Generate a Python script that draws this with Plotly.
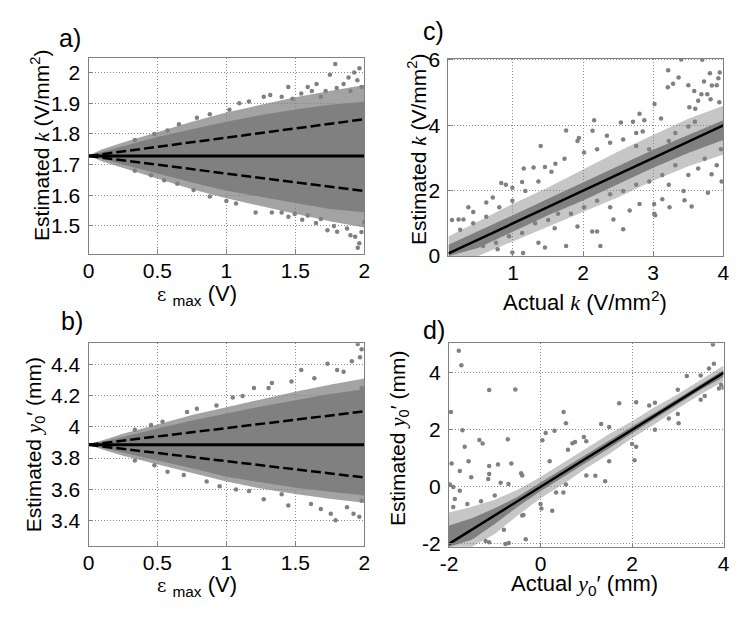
import plotly.graph_objects as go

# The page body adds an 8px margin, so the figure is sized to fill the window exactly.
OFF = 8
W, H = 750 - 2 * OFF, 624 - 2 * OFF
GRAY = "rgb(128,128,128)"
HALO_AB = "rgba(128,128,128,0.72)"
HALO_CD = "rgba(128,128,128,0.45)"

# ---------------- data ----------------
# panel a: estimated k vs eps_max
a_env_x = [0, 0.1, 0.25, 0.5, 0.75, 1.0, 1.25, 1.5, 1.75, 2.0]
a_core_hi = [1.73, 1.742, 1.76, 1.79, 1.815, 1.84, 1.862, 1.88, 1.895, 1.905]
a_core_lo = [1.73, 1.718, 1.70, 1.67, 1.642, 1.615, 1.595, 1.575, 1.555, 1.545]
a_halo_hi = [1.73, 1.75, 1.772, 1.806, 1.84, 1.87, 1.895, 1.92, 1.94, 1.96]
a_halo_lo = [1.73, 1.71, 1.688, 1.655, 1.62, 1.59, 1.565, 1.54, 1.515, 1.495]
a_out_x = [1.79, 1.965, 1.927, 1.886, 1.751, 1.85, 1.654, 1.59, 1.449, 1.271, 1.318, 1.164,
           1.094, 1.022, 0.88, 0.786, 0.656, 0.573, 0.478, 0.336, 1.685, 1.543, 1.401, 1.981,
           1.9, 1.95, 1.8, 1.72, 1.62, 1.48,
           1.953, 1.964, 1.934, 1.803, 1.733, 1.875, 1.685, 1.59, 1.496, 1.401, 1.33, 1.212,
           1.07, 1.0, 0.88, 0.762, 0.644, 0.549, 0.454, 0.336, 2.0,
           1.9, 1.98, 1.78, 1.65, 1.55, 1.45]
a_out_y = [2.028, 2.014, 2.0, 1.984, 1.993, 1.963, 1.963, 1.953, 1.953, 1.921, 1.927, 1.906,
           1.90, 1.879, 1.864, 1.853, 1.832, 1.811, 1.80, 1.78, 1.921, 1.932, 1.921, 1.953,
           1.94, 1.975, 1.95, 1.94, 1.94, 1.915,
           1.429, 1.444, 1.465, 1.481, 1.486, 1.492, 1.523, 1.534, 1.539, 1.544, 1.544, 1.544,
           1.573, 1.581, 1.596, 1.617, 1.638, 1.649, 1.665, 1.68, 1.513,
           1.47, 1.48, 1.50, 1.51, 1.52, 1.53]
a_true_x = [0, 2]
a_true_y = [1.728, 1.728]
a_dash_x = [0, 2]
a_dash_hi = [1.728, 1.848]
a_dash_lo = [1.728, 1.614]

# panel b: estimated y0' vs eps_max
b_env_x = [0, 0.1, 0.25, 0.5, 0.75, 1.0, 1.25, 1.5, 1.75, 2.0]
b_core_hi = [3.885, 3.905, 3.935, 3.99, 4.04, 4.085, 4.13, 4.17, 4.21, 4.24]
b_core_lo = [3.885, 3.865, 3.835, 3.785, 3.735, 3.68, 3.645, 3.61, 3.585, 3.56]
b_halo_hi = [3.885, 3.915, 3.955, 4.015, 4.075, 4.125, 4.175, 4.225, 4.27, 4.31]
b_halo_lo = [3.885, 3.855, 3.815, 3.762, 3.705, 3.65, 3.605, 3.57, 3.54, 3.515]
b_out_x = [1.953, 1.981, 1.969, 1.91, 1.733, 1.85, 1.803, 1.543, 1.638, 1.472, 1.33, 1.2,
           1.306, 1.117, 1.046, 0.928, 0.786, 0.715, 0.537, 0.454, 0.336, 1.981,
           1.792, 1.757, 1.922, 1.964, 1.875, 1.685, 1.614, 1.449, 1.271, 1.401, 1.164, 1.07,
           0.951, 0.857, 0.691, 0.573, 0.478, 0.336, 1.981]
b_out_y = [4.53, 4.497, 4.445, 4.419, 4.404, 4.352, 4.363, 4.363, 4.311, 4.29, 4.28, 4.249,
           4.249, 4.198, 4.187, 4.136, 4.115, 4.095, 4.033, 4.012, 3.981, 4.249,
           3.403, 3.444, 3.444, 3.424, 3.486, 3.475, 3.506, 3.496, 3.537, 3.568, 3.589, 3.599,
           3.620, 3.651, 3.692, 3.713, 3.754, 3.785, 3.527]
b_true_x = [0, 2]
b_true_y = [3.885, 3.885]
b_dash_x = [0, 2]
b_dash_hi = [3.885, 4.099]
b_dash_lo = [3.885, 3.676]

# panel c: estimated k vs actual k
c_env_x = [0.08, 0.5, 1, 1.5, 2, 2.5, 3, 3.5, 4]
c_core_hi = [0.35, 0.75, 1.25, 1.75, 2.25, 2.75, 3.25, 3.7, 4.15]
c_core_lo = [0.0, 0.25, 0.75, 1.25, 1.7, 2.2, 2.7, 3.15, 3.55]
c_halo_hi = [0.6, 1.05, 1.6, 2.1, 2.65, 3.2, 3.7, 4.2, 4.6]
c_halo_lo = [0.0, 0.0, 0.45, 0.9, 1.35, 1.8, 2.3, 2.75, 3.1]
c_out_x = [3.4, 3.70, 3.214, 3.363, 3.284, 3.209, 3.502, 3.809, 3.949, 3.93, 3.725, 3.837,
           3.907, 3.586, 3.688, 3.772, 3.819, 3.944, 3.019, 3.516, 3.642, 3.6, 2.805, 3.112,
           2.158, 2.54, 2.712, 2.874, 1.758, 1.94, 1.92, 2.135, 2.34, 1.395, 1.605, 1.293,
           1.456, 1.153, 0.833, 0.898, 0.991, 1.13, 0.619, 0.363, 0.13, 0.223, 0.293, 0.433,
           0.712,
           3.977, 3.781, 3.549, 3.433, 3.447, 3.223, 3.13, 3.014, 3.014, 3.028, 3.233, 2.572,
           2.433, 2.247, 2.13, 2.2, 2.665, 2.805, 2.386, 1.758, 1.92, 1.595, 1.363, 1.456,
           1.144, 0.991, 0.781, 3.967, 3.907, 3.833,
           2.758, 2.851, 2.944, 3.223, 3.316, 3.502, 3.595, 3.688, 3.735, 3.642, 3.502, 3.316,
           3.13, 2.944, 2.758, 2.572, 2.386, 2.2, 2.014, 1.828, 1.642, 1.502, 1.316, 1.13,
           0.944, 0.758, 0.572, 1.735, 1.549, 1.363, 1.177, 0.991, 0.805, 0.619, 0.433, 0.247,
           2.014, 2.2, 2.386, 2.572, 2.758]
c_out_y = [6.01, 6.0, 5.686, 5.459, 5.272, 5.163, 5.222, 5.587, 5.617, 5.44, 5.341, 5.213,
           5.222, 5.045, 4.946, 4.946, 4.798, 4.7, 4.65, 4.551, 4.749, 4.502, 4.354, 4.206,
           4.157, 4.088, 4.108, 4.157, 3.841, 3.614, 3.516, 3.831, 3.683, 3.368, 2.826, 2.707,
           2.727, 2.678, 2.233, 2.184, 2.086, 2.263, 1.642, 1.494, 1.1, 1.12, 1.12, 1.346,
           1.79,
           2.283, 1.938, 1.514, 1.988, 1.711, 2.184, 1.74, 1.593, 1.297, 1.248, 1.494, 0.824,
           1.12, 0.311, 0.755, 0.755, 1.396, 1.593, 1.494, 0.311, 0.903, 0.853, 0.41, 0.262,
           0.094, 0.113, 0.212, 3.269, 2.777, 2.5,
           3.368, 3.811, 3.269, 3.516, 3.762, 3.96, 4.108, 3.664, 2.974, 2.678, 2.48, 2.776,
           2.48, 2.283, 2.184, 1.987, 1.889, 1.692, 1.494, 1.297, 1.297, 1.1, 1.002, 0.706,
           0.607, 0.41, 0.311, 2.974, 2.579, 2.283, 1.987, 1.692, 1.494, 1.199, 1.002, 0.804,
           3.171, 3.269, 3.467, 3.565, 3.762]
c_true_x = [0.08, 4]
c_true_y = [0.08, 4]

# panel d: estimated y0' vs actual y0'
d_env_x = [-2, -1.5, -1, -0.5, 0, 0.5, 1, 1.5, 2, 2.5, 3, 3.5, 4]
d_core_hi = [-1.35, -1.1, -0.75, -0.35, 0.15, 0.65, 1.15, 1.65, 2.12, 2.6, 3.1, 3.6, 4.1]
d_core_lo = [-2.1, -1.85, -1.3, -0.7, -0.15, 0.35, 0.85, 1.35, 1.88, 2.4, 2.9, 3.4, 3.85]
d_halo_hi = [-0.9, -0.7, -0.45, -0.1, 0.35, 0.85, 1.35, 1.85, 2.3, 2.8, 3.25, 3.75, 4.25]
d_halo_lo = [-2.1, -2.1, -1.65, -1.0, -0.4, 0.1, 0.65, 1.15, 1.7, 2.2, 2.75, 3.25, 3.7]
d_out_x = [-1.786, -1.729, -1.957, -1.707, -1.122, -0.551, -1.336, -1.265, -0.715, -1.657,
           -1.943, -1.572, -1.122, -0.93, -0.637, -1.764, -1.122, -1.515, -1.143, -0.423,
           -0.872, -1.979, -1.907, -1.764, -1.872, -1.907, 0.041, 0.113, 0.305, 0.505, 0.555,
           0.698, 0.755, 0.948, 1.326, 1.719, 2.09, 2.375, 3.197, 3.767, 3.789, 3.682, 3.589,
           3.018, 2.804, 2.09, 2.054, 1.412, 1.198, 0.555, 0.341, 0.256, 0.02, -0.373, -0.323,
           -0.694, -0.765, -1.122, 4.0, 3.946,
           -1.6, -1.3, -1.0, -0.7, -0.4, 0.2, 0.6, 1.0, 1.5, 2.5, 3.0, 3.5,
           -1.2, -0.8, -0.4, 0.0, 0.5, 1.0, 1.5, 2.0, 2.5, 3.0, 3.5, 3.9]
d_out_y = [4.767, 4.259, 2.624, 1.981, 3.391, 3.413, 1.642, 1.518, 1.665, 1.406,
           0.819, 0.898, 0.729, 0.785, 0.819, 0.559, 0.447, 0.334, 0.278, 0.481,
           0.142, 0.086, -0.005, -0.14, -0.422, -0.704, 1.631, 1.891, 1.969, 2.624, 2.229,
           1.53, 1.575, 1.744, 2.206, 2.928, 2.962, 2.85, 3.887, 4.993, 4.316, 4.147, 3.188,
           2.229, 2.398, 1.406, 0.932, 0.2, 0.39, 0.086, -0.196, -0.839, -0.76, -0.986, -1.832,
           -1.967, -2.0, -1.945, 3.47, 3.58,
           -0.6, -0.5, -0.3, 0.1, 0.4, 0.9, 1.3, 1.6, 2.1, 2.95, 3.4, 3.9,
           -1.9, -1.5, -1.0, -0.6, -0.2, 0.4, 0.9, 1.5, 2.0, 2.55, 3.05, 3.45]
d_true_x = [-2, 4]
d_true_y = [-2, 4]

# tick labels
a_xticks = [0, 0.5, 1, 1.5, 2]
a_xtext = ["0", "0.5", "1", "1.5", "2"]
a_yticks = [1.5, 1.6, 1.7, 1.8, 1.9, 2.0]
a_ytext = ["1.5", "1.6", "1.7", "1.8", "1.9", "2"]
b_yticks = [3.4, 3.6, 3.8, 4.0, 4.2, 4.4]
b_ytext = ["3.4", "3.6", "3.8", "4", "4.2", "4.4"]
c_xticks = [1, 2, 3, 4]
c_xtext = ["1", "2", "3", "4"]
c_yticks = [0, 2, 4, 6]
c_ytext = ["0", "2", "4", "6"]
d_xticks = [-2, 0, 2, 4]
d_xtext = ["-2", "0", "2", "4"]
d_yticks = [-2, 0, 2, 4]
d_ytext = ["-2", "0", "2", "4"]

# ---------------- figure ----------------
fig = go.Figure()

def px(x):
    return (x - OFF) / W

def py(y):
    return 1 - (y - OFF) / H

panels = {
    "a": dict(xa="x", ya="y", dom_x=[px(81), px(362.5)], dom_y=[py(252), py(49)]),
    "b": dict(xa="x2", ya="y2", dom_x=[px(81), px(362.5)], dom_y=[py(555), py(345)]),
    "c": dict(xa="x3", ya="y3", dom_x=[px(448.5), px(729)], dom_y=[py(254.6), py(50)]),
    "d": dict(xa="x4", ya="y4", dom_x=[px(449), px(729.3)], dom_y=[py(556), py(345)]),
}

def band(ex, hi, lo, color, xa, ya):
    fig.add_trace(go.Scatter(x=list(ex) + list(ex)[::-1], y=list(hi) + list(lo)[::-1],
                             fill="toself", fillcolor=color, mode="lines",
                             line=dict(width=0, color=color), hoverinfo="skip",
                             showlegend=False, xaxis=xa, yaxis=ya))

def dots(x, y, xa, ya):
    fig.add_trace(go.Scatter(x=x, y=y, mode="markers",
                             marker=dict(size=4.5, color=GRAY, line=dict(width=0)),
                             showlegend=False, xaxis=xa, yaxis=ya))

def line(x, y, xa, ya, dash="solid", width=3):
    fig.add_trace(go.Scatter(x=x, y=y, mode="lines",
                             line=dict(color="black", width=width, dash=dash),
                             showlegend=False, xaxis=xa, yaxis=ya))

data = {
    "a": (a_env_x, a_core_hi, a_core_lo, a_halo_hi, a_halo_lo, a_out_x, a_out_y, HALO_AB),
    "b": (b_env_x, b_core_hi, b_core_lo, b_halo_hi, b_halo_lo, b_out_x, b_out_y, HALO_AB),
    "c": (c_env_x, c_core_hi, c_core_lo, c_halo_hi, c_halo_lo, c_out_x, c_out_y, HALO_CD),
    "d": (d_env_x, d_core_hi, d_core_lo, d_halo_hi, d_halo_lo, d_out_x, d_out_y, HALO_CD),
}
for k, (ex, ch, cl, hh, hl, ox, oy, hc) in data.items():
    xa, ya = panels[k]["xa"], panels[k]["ya"]
    band(ex, hh, hl, hc, xa, ya)
    band(ex, ch, cl, GRAY, xa, ya)
    dots(ox, oy, xa, ya)

line(a_true_x, a_true_y, "x", "y", width=3)
line(a_dash_x, a_dash_hi, "x", "y", dash="10px,4px", width=2.5)
line(a_dash_x, a_dash_lo, "x", "y", dash="10px,4px", width=2.5)
line(b_true_x, b_true_y, "x2", "y2", width=3)
line(b_dash_x, b_dash_hi, "x2", "y2", dash="10px,4px", width=2.5)
line(b_dash_x, b_dash_lo, "x2", "y2", dash="10px,4px", width=2.5)
line(c_true_x, c_true_y, "x3", "y3", width=2.5)
line(d_true_x, d_true_y, "x4", "y4", width=2.5)

SANS = "Liberation Sans, Arial, sans-serif"

def axis_common(domain, rng, tv, tt):
    return dict(domain=domain, range=rng, tickvals=tv, ticktext=tt,
                showgrid=True, gridcolor="#8c8c8c", griddash="1px,2px", gridwidth=1,
                zeroline=False, showline=True, mirror=True, linecolor="#808080", linewidth=1.2,
                ticks="inside", ticklen=4, tickcolor="#808080",
                tickfont=dict(family=SANS, size=21, color="black"))

layout_axes = {}
specs = {
    "a": ([0, 2], a_xticks, a_xtext, [1.41, 2.049], a_yticks, a_ytext),
    "b": ([0, 2], a_xticks, a_xtext, [3.237, 4.534], b_yticks, b_ytext),
    "c": ([0.08, 4], c_xticks, c_xtext, [0, 6.04], c_yticks, c_ytext),
    "d": ([-2, 4], d_xticks, d_xtext, [-2.11, 5.03], d_yticks, d_ytext),
}
names = {"a": ("xaxis", "yaxis"), "b": ("xaxis2", "yaxis2"),
         "c": ("xaxis3", "yaxis3"), "d": ("xaxis4", "yaxis4")}
for k, (xr, xtv, xtt, yr, ytv, ytt) in specs.items():
    xn, yn = names[k]
    p = panels[k]
    xd = axis_common(p["dom_x"], xr, xtv, xtt)
    xd.update(anchor=p["ya"], ticklabelstandoff=-2)
    yd = axis_common(p["dom_y"], yr, ytv, ytt)
    yd.update(anchor=p["xa"], ticklabelstandoff=3)
    layout_axes[xn] = xd
    layout_axes[yn] = yd

KI = '<span style="font-family:Liberation Serif, Times New Roman, serif"><i>k</i></span>'
YI = '<span style="font-family:Liberation Serif, Times New Roman, serif"><i>y</i></span>'

def ann(text, x, y, size=22, angle=0, family=SANS):
    return dict(text=text, x=px(x), y=py(y), xref="paper", yref="paper",
                showarrow=False, textangle=angle, xanchor="center", yanchor="middle",
                font=dict(family=family, size=size, color="black"))

eps_title = ('<span style="font-family:DejaVu Serif, serif;font-size:18px">ε</span>'
             ' <sub>max</sub> (V)')
annotations = [
    ann("a)", 62, 29, 25),
    ann("c)", 433, 21, 25),
    ann("b)", 64, 322, 25),
    ann("d)", 434, 331, 25),
    ann("Estimated " + KI + " (V/mm<sup>2</sup>)", 32, 140, 21, -90),
    ann("Estimated " + KI + " (V/mm<sup>2</sup>)", 417, 144, 21, -90),
    ann("Estimated " + YI + "<sub>0</sub>′ (mm)", 26, 450, 21, -90),
    ann("Estimated " + YI + "<sub>0</sub>′ (mm)", 398, 444, 21, -90),
    ann(eps_title, 192, 295, 22),
    ann(eps_title, 192, 596, 22),
    ann("Actual " + KI + " (V/mm<sup>2</sup>)", 587.5, 301, 22),
    ann("Actual " + YI + "<sub>0</sub>′ (mm)", 587.5, 595, 22),
]

fig.update_layout(width=W, height=H, margin=dict(l=0, r=0, t=0, b=0),
                  paper_bgcolor="white", plot_bgcolor="white",
                  showlegend=False, annotations=annotations, **layout_axes)

fig.write_html("out.html")
